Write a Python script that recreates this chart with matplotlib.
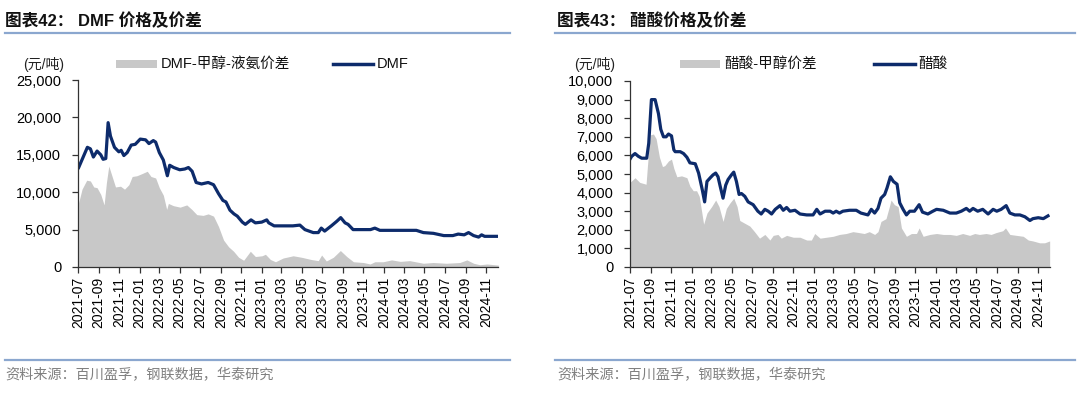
import matplotlib
matplotlib.use('Agg')
import matplotlib.pyplot as plt
import matplotlib.dates as mdates
from matplotlib.lines import Line2D
from matplotlib.patches import Rectangle
import pandas as pd

plt.rcParams['font.family'] = ['Liberation Sans', 'Noto Sans CJK SC']

# ---------------- data ----------------
dmf_dates = ["2021-07-03","2021-07-29","2021-08-07","2021-08-16","2021-08-27","2021-09-07","2021-09-14",
             "2021-09-22","2021-09-29","2021-10-06","2021-10-18","2021-10-31","2021-11-07","2021-11-15",
             "2021-11-25","2021-12-07","2021-12-19","2022-01-03","2022-01-19","2022-01-29","2022-02-11",
             "2022-02-18","2022-03-01","2022-03-13","2022-03-25","2022-04-01","2022-04-13","2022-05-01",
             "2022-05-16","2022-05-27","2022-06-07","2022-06-19","2022-07-05","2022-07-25","2022-08-10",
             "2022-08-25","2022-09-07","2022-09-16","2022-09-28","2022-10-10","2022-10-20","2022-11-04",
             "2022-11-13","2022-11-30","2022-12-13","2023-01-01","2023-01-16","2023-01-22","2023-02-07",
             "2023-03-07","2023-04-04","2023-04-25","2023-05-10","2023-06-04","2023-06-19","2023-06-28",
             "2023-07-08","2023-07-28","2023-08-13","2023-08-25","2023-09-07","2023-09-16","2023-10-01",
             "2023-11-01","2023-11-22","2023-12-05","2023-12-20","2024-01-25","2024-02-19","2024-04-07",
             "2024-04-28","2024-05-28","2024-06-28","2024-07-25","2024-08-10","2024-08-28","2024-09-10",
             "2024-09-25","2024-10-10","2024-10-19","2024-10-28","2024-12-07"]
dmf_price = [13300,16000,15800,14700,15500,15000,14400,14500,19300,17500,16000,15400,15600,14900,
             15300,16300,16400,17100,17000,16500,16900,16700,15300,14300,12200,13600,13300,13000,
             13100,13300,12800,11300,11100,11300,11000,9800,8900,8700,7600,7100,6800,6000,
             5700,6300,5900,6000,6300,5900,5500,5500,5500,5600,5000,4600,4600,5200,
             4800,5500,6100,6600,5900,5700,5000,5000,5000,5200,4900,4900,4900,4900,
             4600,4500,4200,4200,4400,4300,4600,4200,4000,4300,4100,4100]

dmf_spread_dates = ["2021-07-03","2021-07-13","2021-07-27","2021-08-07","2021-08-17","2021-08-27","2021-09-07",
                    "2021-09-17","2021-09-24","2021-10-01","2021-10-11","2021-10-21","2021-11-05","2021-11-17",
                    "2021-11-30","2021-12-10","2021-12-24","2022-01-09","2022-01-24","2022-02-04","2022-02-18",
                    "2022-03-01","2022-03-13","2022-03-23","2022-03-28","2022-04-12","2022-05-02","2022-05-22",
                    "2022-06-06","2022-06-21","2022-07-10","2022-07-25","2022-08-10","2022-08-25","2022-09-09",
                    "2022-09-24","2022-10-09","2022-10-24","2022-11-08","2022-11-28","2022-12-13","2023-01-02",
                    "2023-01-12","2023-01-27","2023-02-11","2023-03-06","2023-04-05","2023-04-30","2023-05-29",
                    "2023-06-19","2023-06-29","2023-07-13","2023-08-03","2023-08-24","2023-09-12","2023-10-02",
                    "2023-11-01","2023-11-21","2023-12-05","2023-12-30","2024-01-24","2024-02-19","2024-03-18",
                    "2024-04-28","2024-05-27","2024-07-06","2024-08-15","2024-09-05","2024-09-25","2024-10-14",
                    "2024-11-04","2024-12-08"]
dmf_spread = [8600,10400,11600,11500,10700,10600,9700,8300,11300,13500,12100,10700,10800,10400,
              11000,12100,12200,12500,12800,12100,11900,10600,9600,7700,8500,8200,8000,8300,
              7700,7000,6900,7100,6800,5400,3600,2700,2100,1300,900,2100,1400,1500,
              1700,1000,700,1200,1500,1300,1000,850,1600,800,1300,2200,1400,700,
              600,400,700,700,950,750,850,500,600,500,600,950,500,300,400,250]

acid_dates = ["2021-07-01","2021-07-06","2021-07-16","2021-07-26","2021-08-05","2021-08-20","2021-08-26",
              "2021-09-03","2021-09-14","2021-09-24","2021-10-01","2021-10-09","2021-10-17","2021-10-24",
              "2021-11-02","2021-11-09","2021-11-13","2021-11-28","2021-12-08","2021-12-18","2021-12-27",
              "2022-01-12","2022-01-22","2022-02-02","2022-02-09","2022-02-16","2022-02-26","2022-03-06",
              "2022-03-14","2022-03-21","2022-03-28","2022-04-05","2022-04-13","2022-04-20","2022-04-30",
              "2022-05-07","2022-05-15","2022-05-23","2022-05-30","2022-06-09","2022-06-19","2022-07-04",
              "2022-07-18","2022-07-28","2022-08-08","2022-08-18","2022-08-28","2022-09-08","2022-09-22",
              "2022-10-02","2022-10-12","2022-10-22","2022-11-06","2022-11-21","2022-12-11","2022-12-30",
              "2023-01-10","2023-01-20","2023-02-04","2023-02-19","2023-02-28","2023-03-09","2023-03-19",
              "2023-03-29","2023-04-18","2023-05-08","2023-05-22","2023-06-12","2023-06-22","2023-07-02",
              "2023-07-12","2023-07-21","2023-08-01","2023-08-08","2023-08-18","2023-08-27","2023-09-07",
              "2023-09-15","2023-09-25","2023-10-05","2023-10-15","2023-10-29","2023-11-12","2023-11-22",
              "2023-12-08","2023-12-23","2024-01-03","2024-01-23","2024-02-12","2024-03-02","2024-03-17",
              "2024-04-01","2024-04-11","2024-04-21","2024-05-05","2024-05-20","2024-06-05","2024-06-20",
              "2024-07-01","2024-07-14","2024-07-29","2024-08-09","2024-08-24","2024-09-08","2024-09-23",
              "2024-10-08","2024-10-17","2024-11-02","2024-11-17","2024-12-01"]
acid_price = [5800,5950,6100,5950,5850,5850,6650,9000,9000,8250,7400,7000,7000,7150,
              7050,6300,6200,6200,6100,5900,5600,5550,5050,4150,3500,4600,4800,4950,
              5050,4850,4300,3700,4400,4700,4950,5100,4600,3900,3950,3800,3500,3350,
              3000,2850,3100,3000,2850,3100,3300,3050,3200,3000,3050,2850,2800,2800,
              3100,2850,3000,3000,2900,3000,2900,3000,3050,3050,2900,2800,3100,2900,
              3150,3700,3900,4250,4850,4600,4450,3450,3100,2800,3000,3000,3350,2950,
              2850,3000,3100,3050,2900,2900,3000,3150,3000,3150,3000,3100,2850,3100,
              3000,3100,3300,2900,2800,2800,2700,2500,2600,2650,2600,2750]

acid_spread_dates = ["2021-07-01","2021-07-16","2021-07-30","2021-08-18","2021-08-22","2021-08-30","2021-09-09",
                     "2021-09-17","2021-09-27","2021-10-06","2021-10-13","2021-10-24","2021-11-02","2021-11-09",
                     "2021-11-18","2021-12-02","2021-12-18","2021-12-27","2022-01-06","2022-01-16","2022-01-24",
                     "2022-02-06","2022-02-16","2022-03-02","2022-03-14","2022-03-24","2022-04-05","2022-04-15",
                     "2022-04-26","2022-05-07","2022-05-17","2022-05-25","2022-06-09","2022-06-24","2022-07-08",
                     "2022-07-23","2022-08-08","2022-08-23","2022-09-02","2022-09-16","2022-09-26","2022-10-12",
                     "2022-11-01","2022-11-21","2022-12-11","2022-12-25","2023-01-04","2023-01-20","2023-02-08",
                     "2023-02-28","2023-03-19","2023-04-08","2023-04-28","2023-05-16","2023-06-01","2023-06-16",
                     "2023-07-02","2023-07-12","2023-07-21","2023-08-05","2023-08-15","2023-08-20","2023-08-30",
                     "2023-09-10","2023-09-20","2023-10-05","2023-10-20","2023-11-04","2023-11-12","2023-11-24",
                     "2023-12-14","2024-01-03","2024-01-23","2024-02-12","2024-03-02","2024-03-21","2024-04-11",
                     "2024-04-26","2024-05-10","2024-05-30","2024-06-14","2024-06-29","2024-07-19","2024-07-27",
                     "2024-08-09","2024-08-29","2024-09-18","2024-10-03","2024-10-17","2024-11-06","2024-11-21",
                     "2024-12-06"]
acid_spread = [4550,4800,4550,4450,5400,7100,7150,6900,5900,5400,5450,5700,5800,5300,
               4850,4900,4800,4350,4100,4100,3800,2300,2900,3250,3600,3250,2450,3150,
               3450,3700,3250,2500,2350,2200,1900,1550,1750,1450,1700,1750,1550,1700,
               1600,1600,1450,1450,1800,1550,1600,1650,1750,1800,1900,1850,1800,1900,
               1750,1900,2450,2600,3250,3600,3350,3250,2100,1650,1800,1800,2100,1650,
               1750,1800,1750,1750,1700,1800,1700,1800,1750,1800,1750,1850,1950,2100,
               1750,1700,1650,1450,1400,1300,1300,1400]

x_start = "2021-07-01"
x_end = "2024-12-07"

titles = ["图表42： DMF 价格及价差", "图表43： 醋酸价格及价差"]
spread_labels = ["DMF-甲醇-液氨价差", "醋酸-甲醇价差"]
price_labels = ["DMF", "醋酸"]
unit_label = "(元/吨)"
source_text = "资料来源：百川盈孚，钢联数据，华泰研究"

# ---------------- style ----------------
W, H = 1080, 399
LINE_C = '#0d2b6b'
FILL_C = '#c8c8c8'
SEP_C = '#8ba7cf'

fig = plt.figure(figsize=(W / 100, H / 100), dpi=100)

def fx(px):
    return px / W

def fy(py):
    return 1 - py / H

panels = [
    dict(ax_px=(78, 80, 498, 267), ylim=(0, 25000), ystep=5000,
         dates=dmf_dates, price=dmf_price, sdates=dmf_spread_dates, spread=dmf_spread,
         title_x=5, sep=(5, 510), unit_x=44,
         leg=(116, 157, 161, 333, 373, 377)),
    dict(ax_px=(630, 81, 1050, 267), ylim=(0, 10000), ystep=1000,
         dates=acid_dates, price=acid_price, sdates=acid_spread_dates, spread=acid_spread,
         title_x=557, sep=(555, 1075), unit_x=595,
         leg=(680, 720, 724, 874, 915, 918)),
]

for i, p in enumerate(panels):
    l, t, r, b = p['ax_px']
    ax = fig.add_axes([fx(l), fy(b), fx(r - l), (b - t) / H])
    sd = pd.to_datetime(p['sdates'])
    ax.fill_between(sd, p['spread'], 0, color=FILL_C, lw=0)
    d = pd.to_datetime(p['dates'])
    ax.plot(d, p['price'], color=LINE_C, lw=2.3, solid_joinstyle='round')
    ax.set_xlim(pd.Timestamp(x_start), pd.Timestamp(x_end))
    ax.set_ylim(*p['ylim'])
    ax.set_yticks(range(p['ylim'][0], p['ylim'][1] + 1, p['ystep']))
    ax.yaxis.set_major_formatter(matplotlib.ticker.FuncFormatter(lambda v, pos: f"{int(v):,}"))
    ax.xaxis.set_major_locator(mdates.MonthLocator(bymonth=[1, 3, 5, 7, 9, 11]))
    ax.xaxis.set_major_formatter(mdates.DateFormatter('%Y-%m'))
    for s in ['top', 'right']:
        ax.spines[s].set_visible(False)
    for s in ['left', 'bottom']:
        ax.spines[s].set_color('#333333')
        ax.spines[s].set_linewidth(0.9)
    ax.tick_params(axis='y', direction='out', length=4, width=0.9, color='#333333',
                   labelsize=10.5, pad=8)
    ax.tick_params(axis='x', direction='out', length=4, width=0.9, color='#333333',
                   labelsize=10, rotation=90, pad=3)
    ax.set_facecolor('none')

    # title and separators
    fig.text(fx(p['title_x']), fy(21), titles[i], fontsize=12, fontweight='bold',
             va='center', ha='left', color='#111111')
    fig.add_artist(Line2D([fx(p['sep'][0]), fx(p['sep'][1])], [fy(33), fy(33)],
                          color=SEP_C, lw=1.6))
    fig.add_artist(Line2D([fx(p['sep'][0]), fx(p['sep'][1])], [fy(360), fy(360)],
                          color=SEP_C, lw=1.6))
    fig.text(fx(p['title_x']), fy(375), source_text, fontsize=10.2, color='#808080',
             va='center', ha='left')

    # unit label
    fig.text(fx(p['unit_x']), fy(64), unit_label, fontsize=10, va='center', ha='center',
             color='#222222')

    # legend
    g0, g1, gt, l0, l1, lt = p['leg']
    fig.add_artist(Rectangle((fx(g0), fy(68)), fx(g1 - g0), 8 / H, color=FILL_C, lw=0))
    fig.text(fx(gt), fy(64), spread_labels[i], fontsize=10.5, va='center', ha='left',
             color='#111111')
    fig.add_artist(Line2D([fx(l0), fx(l1)], [fy(64), fy(64)], color=LINE_C, lw=2.5))
    fig.text(fx(lt), fy(64), price_labels[i], fontsize=10.5, va='center', ha='left',
             color='#111111')

fig.savefig('out.png', dpi=100)
